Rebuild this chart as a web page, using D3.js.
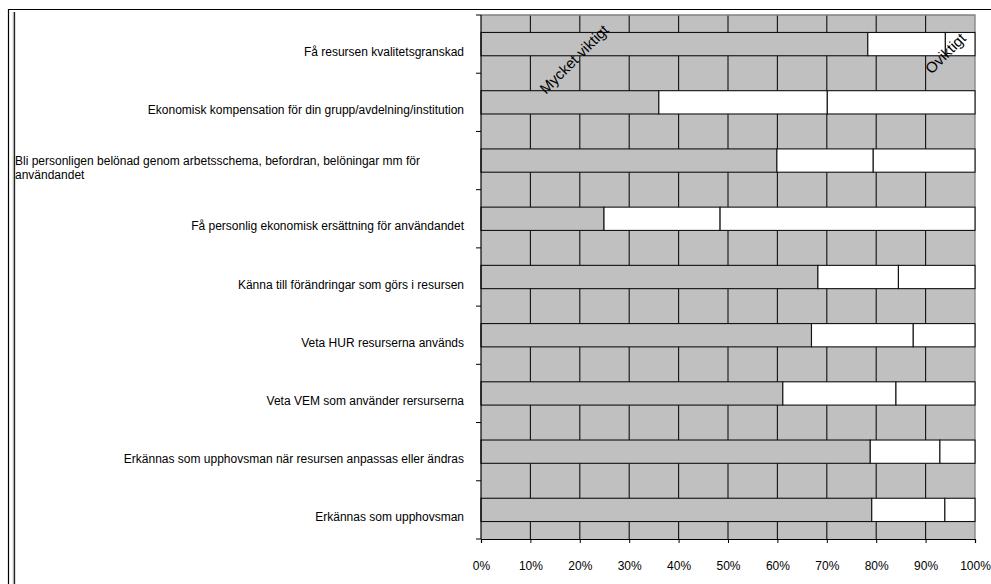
<!DOCTYPE html>
<html>
<head>
<meta charset="utf-8">
<script src="https://cdn.jsdelivr.net/npm/d3@7"></script>
<style>
  html, body { margin: 0; padding: 0; background: #ffffff; }
  svg { display: block; }
  text { font-family: Arial, "Liberation Sans", sans-serif; fill: #000; }
</style>
</head>
<body>
<svg id="chart" width="991" height="584"></svg>
<script>
// Categories, top to bottom ("\n" marks a forced line break)
const categories = [
  "Få resursen kvalitetsgranskad",
  "Ekonomisk kompensation för din grupp/avdelning/institution",
  "Bli personligen belönad genom arbetsschema, befordran, belöningar mm för\nanvändandet",
  "Få personlig ekonomisk ersättning för användandet",
  "Känna till förändringar som görs i resursen",
  "Veta HUR resurserna används",
  "Veta VEM som använder rersurserna",
  "Erkännas som upphovsman när resursen anpassas eller ändras",
  "Erkännas som upphovsman"
];

// Share of answers per category (percent)
const mycketViktigt = [78.3, 36.0, 59.9, 24.9, 68.2, 66.9, 61.1, 78.8, 79.1];
const viktigt       = [15.7, 34.1, 19.5, 23.5, 16.3, 20.6, 22.9, 14.1, 14.8];
const oviktigt      = [ 6.0, 29.9, 20.6, 51.6, 15.5, 12.5, 16.0,  7.1,  6.1];

const seriesNames  = ["Mycket viktigt", "Viktigt", "Oviktigt"];
const seriesFill   = ["#c0c0c0", "#ffffff", "#ffffff"];
const xTickValues  = [0, 10, 20, 30, 40, 50, 60, 70, 80, 90, 100];

const svg = d3.select("#chart");

// Outer frame
const frame = svg.append("g");
frame.append("line").attr("x1", 8).attr("x2", 991).attr("y1", 9.5).attr("y2", 9.5)
  .attr("stroke", "#000").attr("stroke-width", 1.2);
frame.append("line").attr("x1", 8.5).attr("x2", 8.5).attr("y1", 9).attr("y2", 584)
  .attr("stroke", "#000").attr("stroke-width", 1.2);
frame.append("line").attr("x1", 13.2).attr("x2", 13.2).attr("y1", 12).attr("y2", 584)
  .attr("stroke", "#b8b8b8").attr("stroke-width", 1);
frame.append("line").attr("x1", 14.5).attr("x2", 14.5).attr("y1", 12).attr("y2", 584)
  .attr("stroke", "#222").attr("stroke-width", 1.3);

// Scales
const x = d3.scaleLinear().domain([0, 100]).range([481, 975]);
const y = d3.scaleBand().domain(categories).range([15, 539])
  .paddingInner(0.6).paddingOuter(0.3);

const [x0, x1] = x.range();
const [y0, y1] = y.range();

// Plot background
svg.append("rect").attr("x", x0).attr("y", y0)
  .attr("width", x1 - x0).attr("height", y1 - y0)
  .attr("fill", "#c0c0c0");

// Vertical gridlines
svg.append("g").selectAll("line")
  .data(xTickValues.filter(v => v > 0 && v < 100))
  .join("line")
  .attr("x1", d => x(d)).attr("x2", d => x(d))
  .attr("y1", y0).attr("y2", y1)
  .attr("stroke", "#111").attr("stroke-width", 1.1);

// Plot border (top and right)
svg.append("path")
  .attr("d", `M${x0},${y0}H${x1}V${y1}`)
  .attr("fill", "none").attr("stroke", "#808080").attr("stroke-width", 1.3);

// Stacked bars
const rows = categories.map((c, i) => ({
  cat: c, [seriesNames[0]]: mycketViktigt[i], [seriesNames[1]]: viktigt[i], [seriesNames[2]]: oviktigt[i]
}));
const stacked = d3.stack().keys(seriesNames)(rows);

svg.append("g").selectAll("g")
  .data(stacked)
  .join("g")
  .attr("fill", (d, i) => seriesFill[i])
  .selectAll("rect")
  .data(d => d)
  .join("rect")
  .attr("x", d => x(d[0]))
  .attr("y", d => y(d.data.cat))
  .attr("width", d => x(d[1]) - x(d[0]))
  .attr("height", y.bandwidth())
  .attr("stroke", "#111")
  .attr("stroke-width", 1.1);

// Category axis line and ticks at band boundaries
const ya = svg.append("g");
ya.append("line").attr("x1", x0).attr("x2", x0).attr("y1", y0).attr("y2", y1)
  .attr("stroke", "#000").attr("stroke-width", 1.2);
ya.selectAll("line.tick")
  .data(d3.range(categories.length + 1))
  .join("line").attr("class", "tick")
  .attr("x1", x0 - 5).attr("x2", x0)
  .attr("y1", i => y0 + i * y.step()).attr("y2", i => y0 + i * y.step())
  .attr("stroke", "#000").attr("stroke-width", 1);

// Category labels
const labels = svg.append("g").attr("font-size", 12);
categories.forEach(c => {
  const lines = c.split("\n");
  const mid = y(c) + y.bandwidth() / 2 + 7;
  const lineH = 14;
  const t = labels.append("text");
  if (lines.length > 1) {
    t.attr("text-anchor", "start");
    lines.forEach((ln, k) => {
      t.append("tspan")
        .attr("x", 15)
        .attr("y", mid - (lines.length - 1) * lineH / 2 + k * lineH + 4.5)
        .text(ln);
    });
  } else {
    t.attr("text-anchor", "end").attr("x", 464).attr("y", mid + 4.5).text(c);
  }
});

// Value axis
const xAxis = d3.axisBottom(x)
  .tickValues(xTickValues)
  .tickFormat(d => d + "%")
  .tickSize(4)
  .tickPadding(18);
const xa = svg.append("g").attr("transform", `translate(0,${y1})`).call(xAxis);
xa.select(".domain").attr("stroke", "#000").attr("stroke-width", 1.2);
xa.selectAll(".tick line").attr("stroke", "#000");
xa.selectAll(".tick text").attr("font-size", 12)
  .attr("font-family", "Arial, 'Liberation Sans', sans-serif").attr("fill", "#000");

// Series name labels on the top bar
const topMid = y(categories[0]) + y.bandwidth() / 2;
svg.append("text")
  .attr("transform", `translate(${x(18.8)},${topMid + 15}) rotate(-45)`)
  .attr("text-anchor", "middle").attr("dominant-baseline", "central")
  .attr("font-size", 15).text(seriesNames[0]);
svg.append("text")
  .attr("transform", `translate(${x(94)},${topMid + 9}) rotate(-45)`)
  .attr("text-anchor", "middle").attr("dominant-baseline", "central")
  .attr("font-size", 15).text(seriesNames[2]);
</script>
</body>
</html>
